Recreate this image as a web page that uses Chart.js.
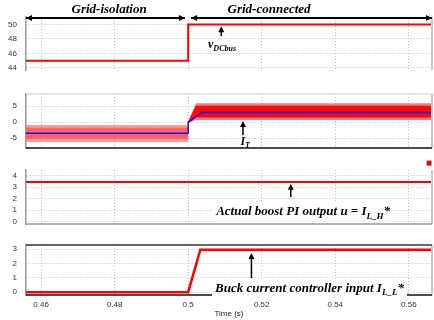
<!DOCTYPE html>
<html>
<head>
<meta charset="utf-8">
<script src="https://cdn.jsdelivr.net/npm/chart.js@4.4.1/dist/chart.umd.min.js"></script>
<style>
  body { margin: 0; background: #fff; width: 434px; height: 320px; position: relative; overflow: hidden; }
  canvas { position: absolute; left: 0; }
</style>
</head>
<body>
<canvas id="p1" width="434" height="78" style="top:0px"></canvas>
<canvas id="p2" width="434" height="76" style="top:80px"></canvas>
<canvas id="p3" width="434" height="76" style="top:156px"></canvas>
<canvas id="p4" width="434" height="88" style="top:232px"></canvas>
<script>
// time axis
const tMin = 0.4559, tMax = 0.5663;
const xTicks = [0.46, 0.48, 0.5, 0.52, 0.54, 0.56];

// panel 1 : DC bus voltage
const vbusT = [0.4559, 0.5, 0.5, 0.5663];
const vbusV = [45, 45, 50, 50];
const vTicks = [44, 46, 48, 50];

// panel 2 : inductor current I_T (ripple band) and its reference
const iBeforeT = [0.4559, 0.5];
const iBeforeHi = [-0.9, -0.9];
const iBeforeLo = [-6.2, -6.2];
const iBeforeInHi = [-1.8, -1.8];
const iBeforeInLo = [-5.2, -5.2];
const iAfterT = [0.5, 0.5021, 0.5663];
const iAfterHi = [0.2, 5.9, 5.9];
const iAfterLo = [-0.4, 0.6, 0.6];
const iAfterInHi = [0.1, 5.1, 5.1];
const iAfterInLo = [-0.3, 1.4, 1.4];
const iRefT = [0.4559, 0.5, 0.5, 0.5038, 0.5663];
const iRefV = [-3.5, -3.5, 0, 3, 3];
const iTicks = [-5, 0, 5];

// panel 3 : boost PI output
const uT = [0.4559, 0.5663];
const uV = [3.45, 3.45];
const markT = [0.5655];
const markV = [5.1];
const uTicks = [0, 1, 2, 3, 4];

// panel 4 : buck current controller input
const bkT = [0.4559, 0.5, 0.5033, 0.5663];
const bkV = [0, 0, 2.95, 2.95];
const bTicks = [0, 0.5, 1, 1.5, 2, 2.5, 3];

const RED = '#ff0000';
const pts = (t, v) => t.map((x, i) => ({ x: x, y: v[i] }));

function notesPlugin(items, frame) {
  return {
    id: 'notes',
    afterDraw(chart) {
      const ctx = chart.ctx, a = chart.chartArea;
      const X = v => chart.scales.x.getPixelForValue(v);
      const Y = v => chart.scales.y.getPixelForValue(v);
      ctx.save();
      // frame lines
      ctx.strokeStyle = '#c8c8c8'; ctx.lineWidth = 2;
      ctx.beginPath(); ctx.moveTo(a.right, a.top); ctx.lineTo(a.right, a.bottom); ctx.stroke();
      if (frame.top) {
        ctx.strokeStyle = frame.top; ctx.lineWidth = 1.5;
        ctx.beginPath(); ctx.moveTo(a.left, a.top); ctx.lineTo(a.right, a.top); ctx.stroke();
      }
      if (frame.bottom) {
        ctx.strokeStyle = frame.bottom; ctx.lineWidth = 1.5;
        ctx.beginPath(); ctx.moveTo(a.left, a.bottom); ctx.lineTo(a.right, a.bottom); ctx.stroke();
      }
      items.forEach(n => {
        ctx.fillStyle = '#000'; ctx.strokeStyle = '#000';
        if (n.type === 'mark') {
          // stray marker sitting above the plot area
          ctx.fillStyle = RED;
          n.t.forEach((t, i) => { ctx.fillRect(X(t) - 2.5, Y(n.v[i]) - 2.5, 5, 5); });
        } else if (n.type === 'hline') {
          const x1 = X(n.x1), x2 = X(n.x2), y = Y(n.y);
          ctx.lineWidth = 2;
          ctx.beginPath(); ctx.moveTo(x1, y); ctx.lineTo(x2, y); ctx.stroke();
          ctx.beginPath(); ctx.moveTo(x1, y); ctx.lineTo(x1 + 6, y - 3); ctx.lineTo(x1 + 6, y + 3); ctx.fill();
          ctx.beginPath(); ctx.moveTo(x2, y); ctx.lineTo(x2 - 6, y - 3); ctx.lineTo(x2 - 6, y + 3); ctx.fill();
        } else if (n.type === 'arrow') {
          const x = X(n.x), y1 = Y(n.y1), y2 = Y(n.y2);
          ctx.lineWidth = 1.5;
          ctx.beginPath(); ctx.moveTo(x, y1); ctx.lineTo(x, y2 + 4); ctx.stroke();
          ctx.beginPath(); ctx.moveTo(x, y2); ctx.lineTo(x - 3, y2 + 6); ctx.lineTo(x + 3, y2 + 6); ctx.fill();
        } else if (n.type === 'text') {
          const size = n.size;
          let w = 0;
          n.parts.forEach(p => {
            p.px = p.sub ? Math.round(size * 0.7) : size;
            ctx.font = 'bold italic ' + p.px + 'px "Liberation Serif"';
            p.w = ctx.measureText(p.t).width;
            w += p.w;
          });
          let sx = n.align === 'center' ? X(n.x) - w / 2 : X(n.x);
          const y = Y(n.y);
          if (n.bg) {
            ctx.fillStyle = '#fff';
            ctx.fillRect(sx - 3, y - size * 0.75, w + 6, size * 1.5);
          }
          ctx.fillStyle = '#000';
          ctx.textBaseline = 'middle';
          n.parts.forEach(p => {
            ctx.font = 'bold italic ' + p.px + 'px "Liberation Serif"';
            ctx.fillText(p.t, sx, y + (p.sub ? size * 0.35 : 0));
            sx += p.w;
          });
        }
      });
      ctx.restore();
    }
  };
}

function panel(id, datasets, yMin, yMax, yTicks, pad, notes, frame, isLast) {
  const yLabels = yTicks.filter(v => Number.isInteger(v));
  return new Chart(document.getElementById(id), {
    type: 'line',
    data: { datasets: datasets },
    options: {
      responsive: false,
      animation: false,
      layout: { padding: { top: pad[0], bottom: pad[1], left: 0, right: 2 } },
      plugins: { legend: { display: false }, tooltip: { enabled: false } },
      elements: { point: { radius: 0 }, line: { tension: 0 } },
      scales: {
        x: {
          type: 'linear', min: tMin, max: tMax,
          afterBuildTicks: s => { s.ticks = xTicks.map(v => ({ value: v })); },
          afterFit: s => { if (!isLast) s.height = 0; else s.height = 25; },
          grid: { color: '#bdbdbd', drawTicks: false },
          border: { display: false, dash: [1, 2] },
          ticks: {
            display: isLast, padding: 5, color: '#333',
            font: { family: 'Liberation Sans', size: 8 },
            callback: v => String(v)
          },
          title: {
            display: isLast, text: 'Time (s)', color: '#222',
            font: { family: 'Liberation Sans', size: 8 },
            padding: { top: 0, bottom: 1 }
          }
        },
        y: {
          min: yMin, max: yMax,
          afterBuildTicks: s => { s.ticks = yTicks.map(v => ({ value: v })); },
          afterFit: s => { s.width = 26; s.paddingTop = 0; s.paddingBottom = 0; },
          grid: { color: '#bdbdbd', drawTicks: false },
          border: { color: '#999', width: 1.5, dash: [1, 2] },
          ticks: {
            padding: 9, color: '#333',
            font: { family: 'Liberation Sans', size: 8 },
            callback: v => (yLabels.includes(v) ? String(v) : '')
          }
        }
      }
    },
    plugins: [notesPlugin(notes, frame)]
  });
}

// panel 1
panel('p1', [
  { data: pts(vbusT, vbusV), borderColor: RED, borderWidth: 2 }
], 43.7, 51.05, vTicks, [17, 8], [
  { type: 'text', x: 0.4785, y: 52.05, size: 13, align: 'center', parts: [{ t: 'Grid-isolation' }] },
  { type: 'text', x: 0.522, y: 52.05, size: 13, align: 'center', parts: [{ t: 'Grid-connected' }] },
  { type: 'hline', x1: 0.4559, x2: 0.4991, y: 50.9 },
  { type: 'hline', x1: 0.5008, x2: 0.5663, y: 50.9 },
  { type: 'arrow', x: 0.509, y1: 48.4, y2: 49.75 },
  { type: 'text', x: 0.5054, y: 47.2, size: 12, align: 'left', parts: [{ t: 'v' }, { t: 'DCbus', sub: true }] }
], {}, false);

// panel 2 (lower "order" is drawn on top)
panel('p2', [
  { data: pts(iBeforeT, iBeforeHi), borderWidth: 0, backgroundColor: 'rgba(255,120,120,0.75)', fill: '+1', order: 8 },
  { data: pts(iBeforeT, iBeforeLo), borderWidth: 0, order: 8 },
  { data: pts(iBeforeT, iBeforeInHi), borderWidth: 0, backgroundColor: 'rgba(255,40,40,0.5)', fill: '+1', order: 6 },
  { data: pts(iBeforeT, iBeforeInLo), borderWidth: 0, order: 6 },
  { data: pts(iAfterT, iAfterHi), borderWidth: 0, backgroundColor: 'rgba(255,90,90,0.8)', fill: '+1', order: 4 },
  { data: pts(iAfterT, iAfterLo), borderWidth: 0, order: 4 },
  { data: pts(iAfterT, iAfterInHi), borderWidth: 0, backgroundColor: '#ff0a0a', fill: '+1', order: 2 },
  { data: pts(iAfterT, iAfterInLo), borderWidth: 0, order: 2 },
  { data: pts(iRefT, iRefV), borderColor: '#1010ff', borderWidth: 1.5, order: 0 }
], -8.1, 8.75, iTicks, [14, 8], [
  { type: 'arrow', x: 0.5149, y1: -4.1, y2: 0.3 },
  { type: 'text', x: 0.5142, y: -6.3, size: 12, align: 'left', parts: [{ t: 'I' }, { t: 'T', sub: true }] }
], { top: '#dcdcdc', bottom: '#111' }, false);

// panel 3
panel('p3', [
  { data: pts(uT, uV), borderColor: RED, borderWidth: 2 }
], -0.2, 4.5, uTicks, [14, 8], [
  { type: 'mark', t: markT, v: markV },
  { type: 'arrow', x: 0.5279, y1: 2.15, y2: 3.3 },
  { type: 'text', x: 0.5076, y: 0.87, size: 13, align: 'left', bg: true,
    parts: [{ t: 'Actual boost PI output u = I' }, { t: 'L_H', sub: true }, { t: '*' }] }
], { bottom: '#999' }, false);

// panel 4
panel('p4', [
  { data: pts(bkT, bkV), borderColor: RED, borderWidth: 2.5 }
], -0.2, 3.28, bTicks, [13, 0], [
  { type: 'arrow', x: 0.5172, y1: 0.97, y2: 2.72 },
  { type: 'text', x: 0.5073, y: 0.27, size: 13, align: 'left', bg: true,
    parts: [{ t: 'Buck current controller input I' }, { t: 'L_L', sub: true }, { t: '*' }] }
], { top: '#333', bottom: '#111' }, true);
</script>
</body>
</html>
